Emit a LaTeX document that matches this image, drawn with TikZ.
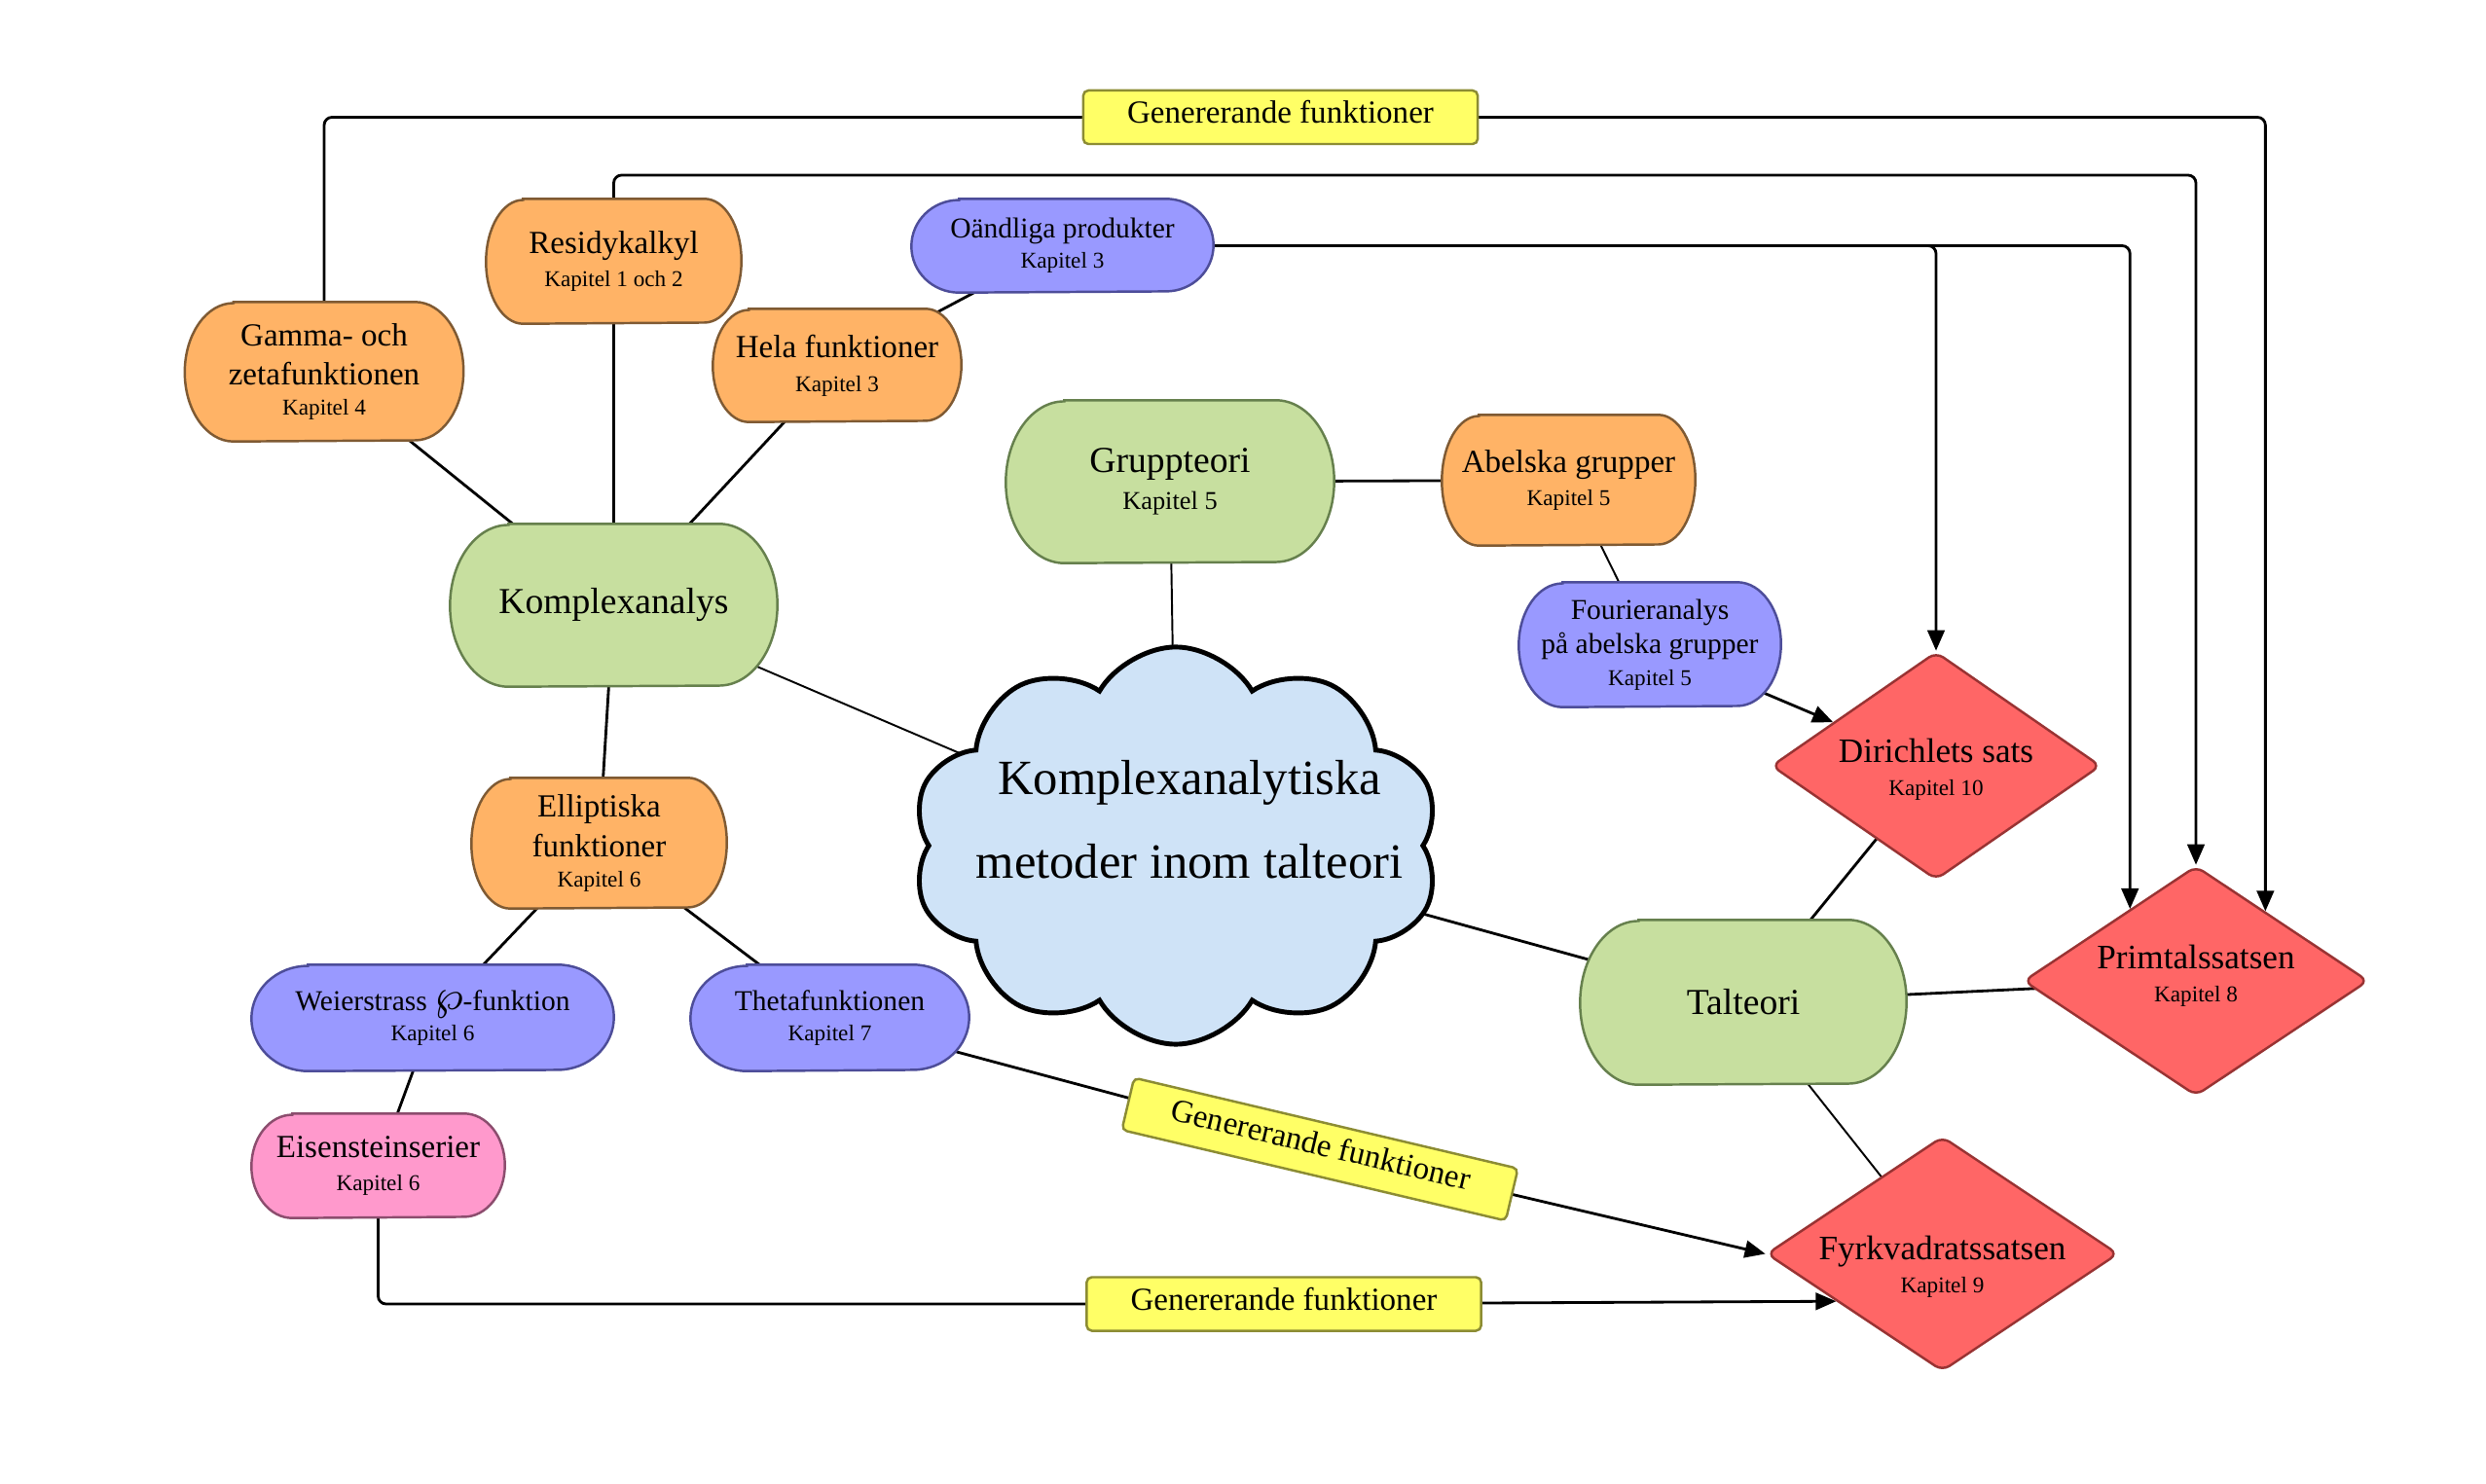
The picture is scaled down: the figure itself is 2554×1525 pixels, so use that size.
\documentclass[tikz,border=0pt]{standalone}
\usepackage{fontspec}
\setmainfont{Liberation Serif}
\usetikzlibrary{shapes.geometric,shapes.symbols,arrows.meta,calc}
\pgfdeclarelayer{edges}
\pgfdeclarelayer{shapes}
\pgfsetlayers{edges,shapes,main}
\definecolor{orngF}{HTML}{FFB366}\definecolor{orngD}{HTML}{7F5A33}
\definecolor{grnF}{HTML}{C7DF9F}\definecolor{grnD}{HTML}{66804D}
\definecolor{bluF}{HTML}{9999FF}\definecolor{bluD}{HTML}{4D4D99}
\definecolor{redF}{HTML}{FF6666}\definecolor{redD}{HTML}{993333}
\definecolor{pnkF}{HTML}{FF99CC}\definecolor{pnkD}{HTML}{8C4D6E}
\definecolor{yelF}{HTML}{FFFF66}\definecolor{yelD}{HTML}{8C8C33}
\definecolor{cloudF}{HTML}{CFE3F7}
\newcommand\kapS{\fontsize{6.6}{8}\selectfont}
\newcommand\kapL{\fontsize{7.5}{9}\selectfont}
% diamond text: shift, contents (zero-size box so the diamond keeps its set size)
\newcommand\dtext[2]{\raisebox{#1}[0pt][0pt]{\begin{tabular}{@{}c@{}}#2\end{tabular}}}
\tikzset{
  orng/.style={fill=orngF, draw=orngD},
  grn/.style={fill=grnF, draw=grnD},
  blu/.style={fill=bluF, draw=bluD},
  pnk/.style={fill=pnkF, draw=pnkD},
  fgreen/.style={font=\fontsize{10.7}{13}\selectfont},
  forange/.style={font=\fontsize{9.4}{11.5}\selectfont},
  fblue/.style={font=\fontsize{8.4}{10}\selectfont},
  dia/.style={shape=diamond, aspect=1.5, inner sep=0pt, fill=redF, draw=redD,
     line width=0.7pt, rounded corners=2.5pt, font=\fontsize{10}{12}\selectfont},
  ybox/.style={draw=yelD, fill=yelF, rounded corners=1.5pt, minimum width=4.05cm,
     minimum height=0.55cm, inner sep=0pt, text depth=3.2pt, line width=0.7pt,
     font=\fontsize{9.4}{11}\selectfont},
  conn/.style={line width=0.8pt, black},
  thin conn/.style={line width=0.55pt, black},
  arr/.style={conn, rounded corners=2.3pt, -{Triangle[length=6pt,width=5pt]}},
}
% #1 name, #2 position, #3 width, #4 height, #5 corner x radius, #6 colour style, #7 font style, #8 text
\newcommand\capsule[8]{%
  \node[#7, align=center, inner sep=0pt, minimum width={#3*0.01cm}, minimum height={#4*0.01cm}] (#1) at (#2) {#8};
  \begin{pgfonlayer}{shapes}
  \path[#6, line width=0.7pt] ($(#1.north west)+(#5,0)$) -- ($(#1.north east)+(-#5,0)$)
     arc[start angle=90, end angle=-90, x radius={#5*0.01cm}, y radius={#4*0.005cm}]
     -- ($(#1.south west)+(#5,0)$)
     arc[start angle=270, end angle=90, x radius={#5*0.01cm}, y radius={#4*0.005cm}] -- cycle;
  \end{pgfonlayer}}
\begin{document}
\begin{tikzpicture}[x=0.01cm,y=-0.01cm]
\useasboundingbox (0,0) rectangle (2554,1525);
\begin{pgfonlayer}{edges}
\fill[white] (0,0) rectangle (2554,1525);
\end{pgfonlayer}

% capsule nodes
\capsule{gamma}{333,382}{285}{142}{50}{orng}{forange}{Gamma- och\\zetafunktionen\\[-2.7pt]{\kapS Kapitel 4}}
\capsule{residy}{630.5,268.5}{261}{127}{38}{orng}{forange}{Residykalkyl\\[-1.6pt]{\kapS Kapitel 1 och 2}}
\capsule{oandl}{1091.5,252.5}{309}{95}{49}{blu}{fblue}{Oändliga produkter\\[-1.2pt]{\kapS Kapitel 3}}
\capsule{hela}{860,375.5}{254}{115}{37}{orng}{forange}{Hela funktioner\\[-1.6pt]{\kapS Kapitel 3}}
\capsule{komplex}{630.5,622}{335}{166}{60}{grn}{fgreen}{Komplexanalys}
\capsule{grupp}{1202,495}{336}{166}{60}{grn}{fgreen}{Gruppteori\\[-2.3pt]{\kapL Kapitel 5}}
\capsule{abel}{1611.5,493.5}{259}{133}{38}{orng}{forange}{Abelska grupper\\[-1.6pt]{\kapS Kapitel 5}}
\capsule{fourier}{1695,662.5}{268}{127}{45}{blu}{fblue}{Fourieranalys\\på abelska grupper\\[-0.6pt]{\kapS Kapitel 5}}
\capsule{talteori}{1791,1030}{334}{168}{60}{grn}{fgreen}{Talteori}
\capsule{ellipt}{615.5,866.5}{261}{133}{40}{orng}{forange}{Elliptiska\\funktioner\\[-2.7pt]{\kapS Kapitel 6}}
\capsule{weier}{444.5,1046}{371}{108}{58}{blu}{fblue}{Weierstrass \raisebox{0.3pt}{\scalebox{1.55}{$\wp$}}-funktion\\[-1.2pt]{\kapS Kapitel 6}}
\capsule{theta}{852.5,1046}{285}{108}{58}{blu}{fblue}{Thetafunktionen\\[-1.2pt]{\kapS Kapitel 7}}
\capsule{eisen}{388.5,1198}{259}{106}{42}{pnk}{forange}{Eisensteinserier\\[-1.6pt]{\kapS Kapitel 6}}

% cloud
\node[cloud, cloud puffs=10, cloud puff arc=120, cloud ignores aspect,
      minimum width=5.42cm, minimum height=4.08cm, fill=cloudF, draw=black,
      line width=1.4pt] (cloud) at (1208,869) {};
\node[font=\fontsize{14.4}{24.5}\selectfont, align=center] (cloudtext) at (1222,842)
  {Komplexanalytiska\\metoder inom talteori};

% diamonds
\node[dia, minimum width=3.38cm, minimum height=2.34cm] (dirichlet) at (1989,787)
  {\dtext{-3.9pt}{Dirichlets sats\\[-2.3pt]{\kapS Kapitel 10}}};
\node[dia, minimum width=3.54cm, minimum height=2.36cm] (prim) at (2256,1008)
  {\dtext{-1.5pt}{Primtalssatsen\\[-2.3pt]{\kapS Kapitel 8}}};
\node[dia, minimum width=3.61cm, minimum height=2.41cm] (fyrk) at (1995.5,1288.5)
  {\dtext{-6.7pt}{Fyrkvadratssatsen\\[-2.3pt]{\kapS Kapitel 9}}};

% yellow label boxes
\node[ybox] (box1) at (1315.5,120.5) {Genererande funktioner};
\node[ybox, rotate=-13.3] (box2) at (1356,1181) {Genererande funktioner};
\node[ybox] (box3) at (1319,1340) {Genererande funktioner};

% helper coordinates
\coordinate (rtop) at (630.5,180);
\coordinate (primNE) at ($(prim.north)!0.4!(prim.east)$);
\coordinate (primNW) at ($(prim.north)!0.38!(prim.west)$);
\coordinate (fyrkSW) at ($(fyrk.west)!0.4!(fyrk.south)$);

\begin{pgfonlayer}{edges}
\draw[conn] (gamma.center) -- (komplex.center);
\draw[conn] (residy.center) -- (komplex.center);
\draw[conn] (hela.center) -- (komplex.center);
\draw[conn] (hela.center) -- (oandl.center);
\draw[thin conn] (komplex.center) -- (cloud.center);
\draw[conn] (komplex.center) -- (ellipt.center);
\draw[conn] (ellipt.center) -- (weier.center);
\draw[conn] (ellipt.center) -- (theta.center);
\draw[conn] (weier.center) -- (eisen.center);
\draw[thin conn] (grupp.center) -- (cloud.center);
\draw[conn] (grupp.center) -- (abel.center);
\draw[thin conn] (abel.center) -- (fourier.center);
\draw[conn] (cloud.center) -- (talteori.center);
\draw[conn] (talteori.center) -- (dirichlet.center);
\draw[conn] (talteori.center) -- (prim.center);
\draw[thin conn] (talteori.center) -- (fyrk.center);
\draw[conn] (theta.center) -- (box2.center);
% arrows
\draw[arr] (fourier.center) -- (dirichlet);
\draw[arr] (oandl.center) -| (dirichlet.north);
\draw[arr] (oandl.center) -| (primNW);
\draw[arr] (residy.center) -- (rtop) -| (prim.north);
\draw[conn, rounded corners=2.3pt] (gamma.center) |- (box1.center);
\draw[arr] (box1.center) -| (primNE);
\draw[conn, rounded corners=2.3pt] (eisen.center) |- (box3.center);
\draw[arr] (box3.center) -- (fyrkSW);
\draw[arr] (box2.center) -- (fyrk.west);
\end{pgfonlayer}
\end{tikzpicture}
\end{document}
